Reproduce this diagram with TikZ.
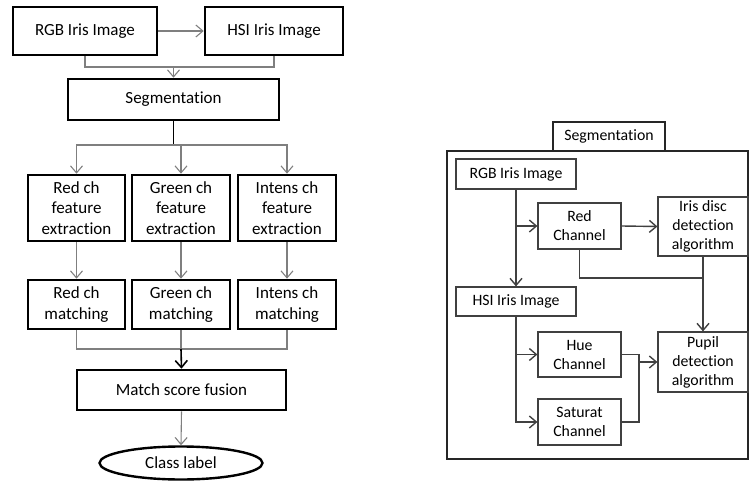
\documentclass[tikz,border=0pt]{standalone}
\usepackage{fontspec}
\setmainfont{Carlito}[Ligatures=NoCommon]
\usetikzlibrary{arrows.meta,shapes.geometric}
\definecolor{lgray}{HTML}{7F7F7F}
\definecolor{dgray}{HTML}{404040}
\tikzset{
  bigbox/.style={draw=black, line width=2.6pt, inner sep=0pt, align=center,
    font=\fontsize{17}{20.5}\selectfont},
  smallbox/.style={draw=dgray, line width=1.2pt, inner sep=0pt, align=center, fill=white,
    font=\fontsize{15.8}{19}\selectfont},
  garrow/.style={draw=lgray, line width=1.1pt, -{Straight Barb[length=7pt,width=12pt,line width=1.1pt]}},
  gline/.style={draw=lgray, line width=1.1pt},
  barrow/.style={draw=black, line width=1.6pt, -{Straight Barb[length=7pt,width=12pt,line width=1.6pt]}},
  bline/.style={draw=black, line width=1.6pt},
  darrow/.style={draw=dgray, line width=1.4pt, -{Straight Barb[length=7pt,width=12pt,line width=1.4pt]}},
  dline/.style={draw=dgray, line width=1.4pt},
}
\begin{document}
\begin{tikzpicture}[x=1pt,y=-1pt]
\useasboundingbox (0,0) rectangle (749,481);
% ---------- left diagram ----------
\node[bigbox, minimum width=144pt, minimum height=48pt] (rgb) at (85,31) {RGB Iris Image};
\node[bigbox, minimum width=138pt, minimum height=48pt] (hsi) at (274,31) {HSI Iris Image};
\node[bigbox, minimum width=211pt, minimum height=41pt] (seg) at (173.5,99.5) {Segmentation};
\node[bigbox, minimum width=97pt, minimum height=66pt] (fr) at (76.5,208) {Red ch\\feature\\extraction};
\node[bigbox, minimum width=98pt, minimum height=66pt] (fg) at (181,208) {Green ch\\feature\\extraction};
\node[bigbox, minimum width=98pt, minimum height=66pt] (fi) at (287,208) {Intens ch\\feature\\extraction};
\node[bigbox, minimum width=97pt, minimum height=49pt] (mr) at (76.5,304.5) {Red ch\\matching};
\node[bigbox, minimum width=98pt, minimum height=49pt] (mg) at (181,304.5) {Green ch\\matching};
\node[bigbox, minimum width=98pt, minimum height=49pt] (mi) at (287,304.5) {Intens ch\\matching};
\node[bigbox, minimum width=209pt, minimum height=40pt] (fus) at (181.5,390) {Match score fusion};
\node[bigbox, ellipse, line width=2.4pt, minimum width=163pt, minimum height=33pt] (cls) at (181,463) {Class label};

\coordinate (j1) at (173.5,67);
\coordinate (j2) at (173.5,145);
\coordinate (j3) at (181,349);

\draw[garrow] (rgb.east) -- (hsi.west);
\draw[gline] (rgb.south) |- (j1);
\draw[gline] (hsi.south) |- (j1);
\draw[garrow] (j1) -- (seg.north);
\draw[bline] (seg.south) -- (j2);
\draw[garrow] (j2) -| (fr.north);
\draw[garrow] (j2) -| (fi.north);
\draw[garrow] (fg.north |- j2) -- (fg.north);
\draw[garrow] (fr.south) -- (mr.north);
\draw[garrow] (fg.south) -- (mg.north);
\draw[garrow] (fi.south) -- (mi.north);
\draw[gline] (mr.south) |- (j3);
\draw[gline] (mi.south) |- (j3);
\draw[gline] (mg.south) -- (j3);
\draw[barrow] (j3) -- (fus.north);
\draw[garrow] (fus.south) -- (cls.north);

% ---------- right diagram ----------
\node[draw=black!85, line width=1.2pt, minimum width=301pt, minimum height=308pt, inner sep=0pt] (frame) at (597.5,305) {};
\node[smallbox, draw=black!85, minimum width=112pt, minimum height=29pt] (seg2) at (609,136.5) {Segmentation};
\node[smallbox, minimum width=120pt, minimum height=30pt] (rgb2) at (516,174) {RGB Iris Image};
\node[smallbox, minimum width=83pt, minimum height=46pt] (red) at (579.5,226) {Red\\Channel};
\node[smallbox, minimum width=90pt, minimum height=59pt] (iris) at (703,226.5) {Iris disc\\detection\\algorithm};
\node[smallbox, minimum width=120pt, minimum height=29pt] (hsi2) at (516,301.5) {HSI Iris Image};
\node[smallbox, minimum width=83pt, minimum height=45pt] (hue) at (579.5,354.5) {Hue\\Channel};
\node[smallbox, minimum width=83pt, minimum height=46pt] (sat) at (579.5,422) {Saturat\\Channel};
\node[smallbox, minimum width=90pt, minimum height=60pt] (pup) at (703,362) {Pupil\\detection\\algorithm};

\coordinate (j4) at (703,278);
\coordinate (j5) at (639,362);

\draw[darrow] (rgb2.south) -- (hsi2.north);
\draw[darrow] (rgb2.south |- red.west) -- (red.west);
\draw[darrow] (red.east) -- (iris.west);
\draw[dline] (red.south) |- (j4);
\draw[darrow] (iris.south) -- (pup.north);
\draw[darrow] (hsi2.south) |- (sat.west);
\draw[darrow] (hsi2.south |- hue.west) -- (hue.west);
\draw[dline] (hue.east) -| (j5);
\draw[dline] (sat.east) -| (j5);
\draw[darrow] (j5) -- (pup.west);
\end{tikzpicture}
\end{document}
